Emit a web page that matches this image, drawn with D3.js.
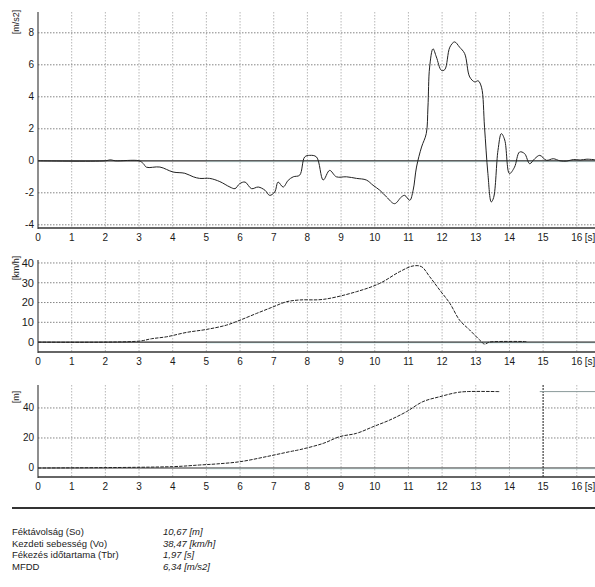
<!DOCTYPE html>
<html lang="hu">
<head>
<meta charset="UTF-8">
<title>Fékvizsgálat</title>
<script src="https://d3js.org/d3.v7.min.js"></script>
<style>
    body { margin: 0; padding: 0; background: #fff; }
    svg { font-family: "Liberation Sans", Arial, sans-serif; }
    .tick-label { font-size: 10px; fill: #1a1a1a; }
    .unit { font-size: 9px; fill: #222; }
    .info { font-size: 9.5px; fill: #222; }
    .info-val { font-size: 9.5px; fill: #222; font-style: italic; }
</style>
</head>
<body>
<svg width="595" height="587"></svg>
<script>
// time ticks shared by all three panels
const timeTicks = d3.range(0, 17);

// acceleration [m/s2]
const accelTime = [0, 2.0, 2.15, 2.3, 3.0, 3.13, 3.22, 3.62, 4.01, 4.36, 4.61, 4.8, 5.1, 5.4, 5.7, 5.85, 5.99, 6.15, 6.34, 6.54, 6.74, 6.88, 7.03, 7.13, 7.28, 7.43, 7.58, 7.77, 7.92, 8.07, 8.27, 8.47, 8.66, 8.86, 9.16, 9.46, 9.75, 9.95, 10.15, 10.35, 10.59, 10.79, 10.89, 11.04, 11.14, 11.24, 11.39, 11.53, 11.58, 11.63, 11.73, 11.83, 11.98, 12.08, 12.23, 12.37, 12.52, 12.67, 12.82, 12.97, 13.07, 13.17, 13.26, 13.36, 13.46, 13.53, 13.66, 13.76, 13.86, 14.0, 14.15, 14.3, 14.45, 14.6, 14.75, 14.9, 15.1, 15.3, 15.5, 15.7, 15.9, 16.1, 16.3, 16.6];
const accelValues = [0, 0, 0.06, 0, 0, -0.18, -0.4, -0.39, -0.7, -0.78, -1.0, -1.1, -1.1, -1.3, -1.64, -1.74, -1.43, -1.33, -1.74, -1.64, -1.84, -2.16, -1.95, -1.33, -1.64, -1.22, -1.0, -0.9, 0.24, 0.34, 0.24, -1.2, -0.6, -1.0, -1.0, -1.1, -1.2, -1.53, -1.84, -2.26, -2.68, -2.26, -2.16, -2.47, -1.84, -0.39, 0.86, 1.7, 3.36, 5.86, 7.0, 6.49, 5.65, 5.7, 7.1, 7.43, 7.1, 6.7, 5.24, 4.93, 5.0, 4.6, 2.1, -0.8, -2.57, -2.3, 0.66, 1.7, 1.3, -0.8, -0.4, 0.55, 0.45, -0.18, 0.13, 0.34, 0.03, 0.13, 0.0, -0.02, 0.08, 0.05, 0.1, 0.05];
const accelTicks = [8, 6, 4, 2, 0, -2, -4];

// speed [km/h]
const speedTime = [0, 3.0, 3.37, 3.82, 4.41, 5.0, 5.6, 6.0, 6.49, 6.98, 7.38, 7.77, 8.47, 9.46, 10.15, 10.74, 11.14, 11.39, 11.63, 11.93, 12.23, 12.52, 12.82, 13.12, 13.26, 13.4, 13.7, 14.5];
const speedValues = [0, 0.5, 1.7, 2.7, 4.9, 6.4, 8.6, 11.1, 14.5, 17.8, 20.4, 21.3, 21.6, 25.5, 29.7, 35.6, 38.5, 38.1, 33.1, 26.3, 19.6, 11.1, 6.1, 1.0, -1.0, 0, 0.3, 0.3];
const speedTicks = [40, 30, 20, 10, 0];

// distance [m]
const distTime = [0, 4.0, 4.8, 5.3, 6.0, 6.79, 7.48, 7.77, 8.47, 8.96, 9.46, 9.95, 10.45, 10.94, 11.43, 11.93, 12.42, 12.72, 13.7];
const distValues = [0, 0.9, 2, 2.7, 4.2, 7.6, 10.9, 12.2, 16.4, 20.9, 23.1, 27.5, 32, 37.5, 44.2, 47.5, 50.2, 50.9, 50.9];
const distTailTime = [14.9, 16.6];
const distTailValues = [50.9, 50.9];
const distTicks = [40, 20, 0];

// summary table
const infoLabels = ["Féktávolság (So)", "Kezdeti sebesség (Vo)", "Fékezés időtartama (Tbr)", "MFDD"];
const infoValues = ["10,67 [m]", "38,47 [km/h]", "1,97 [s]", "6,34 [m/s2]"];

const svg = d3.select("svg");
const x = d3.scaleLinear().domain([0, 16.6]).range([38, 597]);

const panels = [
    { unit: "[m/s2]", unitY: 22, y: d3.scaleLinear().domain([-4.2, 9.3]).range([228, 12]),
      ticks: accelTicks, series: [[accelTime, accelValues, null, "#222"]] },
    { unit: "[km/h]", unitY: 268, y: d3.scaleLinear().domain([-5, 41.5]).range([352, 260]),
      ticks: speedTicks, series: [[speedTime, speedValues, "3.5,1.2", "#222"]], bigTicks: true },
    { unit: "[m]", unitY: 397, y: d3.scaleLinear().domain([-6, 55.3]).range([477, 385]),
      ticks: distTicks, series: [[distTime, distValues, "3.5,1.2", "#222"], [distTailTime, distTailValues, null, "#8a9a9a"]], mark15: true }
];

panels.forEach(p => {
    const g = svg.append("g");
    const [yBot, yTop] = p.y.range();

    // vertical grid
    g.selectAll(".vg").data(timeTicks.slice(1)).enter().append("line")
        .attr("x1", d => x(d)).attr("x2", d => x(d))
        .attr("y1", yTop).attr("y2", yBot)
        .attr("stroke", "#a5a5a5").attr("stroke-width", 0.8)
        .attr("stroke-dasharray", "1.5,1.5");

    // horizontal grid
    g.selectAll(".hg").data(p.ticks.filter(v => v !== 0)).enter().append("line")
        .attr("x1", x(0)).attr("x2", 597)
        .attr("y1", d => p.y(d)).attr("y2", d => p.y(d))
        .attr("stroke", "#666").attr("stroke-width", 0.8)
        .attr("stroke-dasharray", "1.5,1.5");

    if (p.mark15) {
        g.append("line")
            .attr("x1", x(15)).attr("x2", x(15)).attr("y1", yTop).attr("y2", yBot)
            .attr("stroke", "#333").attr("stroke-width", 1).attr("stroke-dasharray", "2,1");
    }

    // zero line
    g.append("line")
        .attr("x1", x(0)).attr("x2", 597)
        .attr("y1", p.y(0)).attr("y2", p.y(0))
        .attr("stroke", "#2a2a2a").attr("stroke-width", 1.2);
    g.append("line")
        .attr("x1", x(5)).attr("x2", 597)
        .attr("y1", p.y(0) + 1).attr("y2", p.y(0) + 1)
        .attr("stroke", "#9cd3d3").attr("stroke-width", 0.6).attr("opacity", 0.6);

    // axes
    g.append("line").attr("x1", x(0)).attr("x2", x(0)).attr("y1", yTop).attr("y2", yBot + 1)
        .attr("stroke", "#444").attr("stroke-width", 1.2);
    g.append("line").attr("x1", x(0)).attr("x2", 597).attr("y1", yBot).attr("y2", yBot)
        .attr("stroke", "#333").attr("stroke-width", 1.4);

    // y tick labels
    g.selectAll(".yl").data(p.ticks).enter().append("text")
        .attr("class", "tick-label")
        .attr("x", 34).attr("y", d => p.y(d))
        .attr("dy", "0.35em").attr("text-anchor", "end")
        .style("font-size", p.bigTicks ? "11px" : null)
        .text(d => d);

    // x tick labels
    g.selectAll(".xl").data(timeTicks).enter().append("text")
        .attr("class", "tick-label")
        .attr("x", d => x(d)).attr("y", yBot + 9)
        .attr("dy", "0.35em").attr("text-anchor", "middle")
        .text(d => d);
    g.append("text").attr("class", "tick-label")
        .attr("x", x(16) + 8).attr("y", yBot + 9).attr("dy", "0.35em")
        .text("[s]");

    // unit label
    g.append("text").attr("class", "unit")
        .attr("transform", `translate(19,${p.unitY}) rotate(-90)`)
        .attr("text-anchor", "middle")
        .text(p.unit);

    // series
    p.series.forEach(([ts, vs, dash, color]) => {
        const pts = ts.map((t, i) => [t, vs[i]]);
        g.append("path")
            .datum(pts)
            .attr("fill", "none")
            .attr("stroke", color)
            .attr("stroke-width", 1)
            .attr("stroke-dasharray", dash)
            .attr("d", d3.line().x(d => x(d[0])).y(d => p.y(d[1])).curve(d3.curveCatmullRom));
    });
});

// separator
svg.append("line").attr("x1", 12).attr("x2", 595).attr("y1", 508).attr("y2", 508)
    .attr("stroke", "#333").attr("stroke-width", 1.8);

// summary block
const rowY = d3.scaleLinear().domain([0, 3]).range([535, 570]);
svg.selectAll(".info").data(infoLabels).enter().append("text")
    .attr("class", "info").attr("x", 12).attr("y", (d, i) => rowY(i)).text(d => d);
svg.selectAll(".info-val").data(infoValues).enter().append("text")
    .attr("class", "info-val").attr("x", 163).attr("y", (d, i) => rowY(i)).text(d => d);
</script>
</body>
</html>
